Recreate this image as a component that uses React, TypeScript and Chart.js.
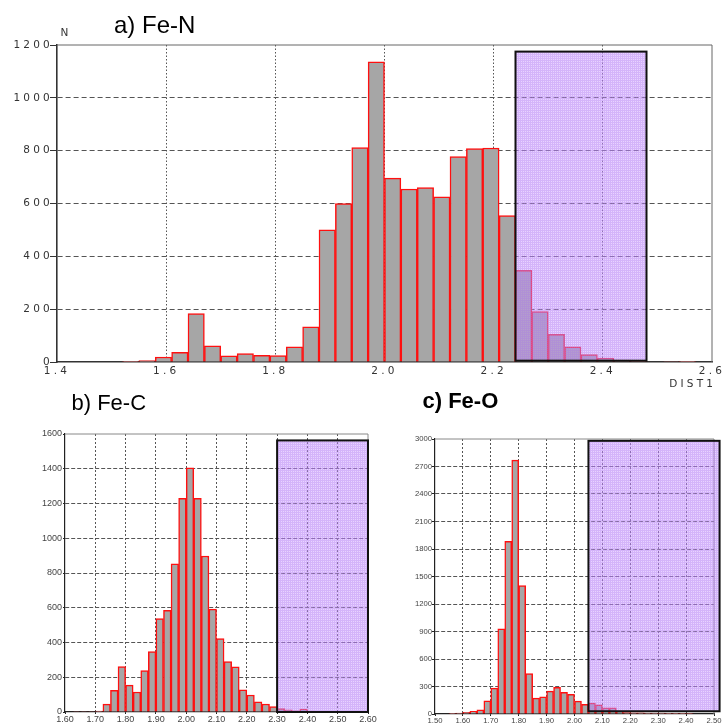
import React, { useEffect, useRef } from "react";
import { Chart, registerables } from "chart.js";

Chart.register(...registerables);

// ---------- a) Fe-N ----------
const feNCentres = [1.535, 1.565, 1.595, 1.625, 1.655, 1.685, 1.715, 1.745, 1.775, 1.805, 1.835, 1.865, 1.895, 1.925, 1.955, 1.985, 2.015, 2.045, 2.075, 2.105, 2.135, 2.165, 2.195, 2.225, 2.255, 2.285, 2.315, 2.345, 2.375, 2.405, 2.435, 2.465, 2.495, 2.525, 2.555];
const feNCounts = [1, 5, 19, 37, 183, 61, 23, 32, 25, 24, 57, 133, 500, 600, 812, 1136, 696, 655, 660, 625, 778, 808, 810, 554, 347, 191, 105, 57, 28, 15, 7, 3, 0, 2, 1];
const feNXTicks = ["1.4", "1.6", "1.8", "2.0", "2.2", "2.4", "2.6"];
const feNYTicks = ["0", "200", "400", "600", "800", "1000", "1200"];
const feNWindow = [2.24, 2.48, 5, 1175]; // x from, x to, y from, y to

// ---------- b) Fe-C ----------
const feCCentres = [1.6375, 1.6625, 1.6875, 1.7125, 1.7375, 1.7625, 1.7875, 1.8125, 1.8375, 1.8625, 1.8875, 1.9125, 1.9375, 1.9625, 1.9875, 2.0125, 2.0375, 2.0625, 2.0875, 2.1125, 2.1375, 2.1625, 2.1875, 2.2125, 2.2375, 2.2625, 2.2875, 2.3125, 2.3375, 2.3625, 2.3875, 2.4125, 2.4375, 2.4625, 2.4875, 2.5125];
const feCCounts = [3, 3, 3, 5, 45, 125, 262, 155, 115, 238, 348, 537, 585, 853, 1230, 1405, 1230, 898, 592, 422, 290, 260, 127, 98, 58, 46, 31, 20, 12, 7, 17, 5, 4, 4, 4, 4];
const feCXTicks = ["1.60", "1.70", "1.80", "1.90", "2.00", "2.10", "2.20", "2.30", "2.40", "2.50", "2.60"];
const feCYTicks = ["0", "200", "400", "600", "800", "1000", "1200", "1400", "1600"];
const feCWindow = [2.3, 2.6, 0, 1563];

// ---------- c) Fe-O ----------
const feOCentres = [1.5625, 1.5875, 1.6125, 1.6375, 1.6625, 1.6875, 1.7125, 1.7375, 1.7625, 1.7875, 1.8125, 1.8375, 1.8625, 1.8875, 1.9125, 1.9375, 1.9625, 1.9875, 2.0125, 2.0375, 2.0625, 2.0875, 2.1125, 2.1375, 2.1625, 2.1875, 2.2125, 2.2375, 2.2625, 2.2875, 2.3125, 2.3375, 2.3625, 2.3875, 2.4125];
const feOCounts = [8, 10, 18, 29, 46, 143, 283, 930, 1885, 2770, 1400, 442, 173, 187, 250, 290, 237, 214, 140, 106, 118, 100, 67, 67, 30, 15, 12, 12, 10, 10, 10, 8, 8, 8, 6];
const feOXTicks = ["1.50", "1.60", "1.70", "1.80", "1.90", "2.00", "2.10", "2.20", "2.30", "2.40", "2.50"];
const feOYTicks = ["0", "300", "600", "900", "1200", "1500", "1800", "2100", "2400", "2700", "3000"];
const feOWindow = [2.05, 2.52, 30, 2980];

const titleA = "a) Fe-N";
const titleB = "b) Fe-C";
const titleC = "c) Fe-O";
const yLabelA = "N";
const xLabelA = "DIST1";

type Panel = {
  centres: number[];
  counts: number[];
  xTicks: string[];
  yTicks: string[];
  win: number[];
  width: number;
  height: number;
  yAxisWidth: number;
  xAxisHeight: number;
  padTop: number;
  padRight: number;
  font: { family: string; size: number };
  letterSpacing: number;
  tickColor: string;
  yTickLen: number;
  yTickPad: number;
  xTickLen: number;
  xTickPad: number;
  xTickMarkColor: string;
  axisWidth: number;
  axisColor: string;
  gridColor: string;
  frameColor: string;
  xDash: number[];
  yDash: number[];
  yLabel?: string;
  xLabel?: string;
};

function makePattern(): CanvasPattern | string {
  const pc = document.createElement("canvas");
  pc.width = 2;
  pc.height = 2;
  const g = pc.getContext("2d");
  if (!g) return "rgba(200,150,255,0.5)";
  g.fillStyle = "rgba(200,150,255,0.42)";
  g.fillRect(0, 0, 2, 2);
  g.fillStyle = "rgba(165,105,240,0.3)";
  g.fillRect(0, 0, 2, 1);
  g.fillRect(0, 1, 1, 1);
  return g.createPattern(pc, "repeat") || "rgba(200,150,255,0.5)";
}

function buildChart(canvas: HTMLCanvasElement, p: Panel) {
  const xVals = p.xTicks.map(Number);
  const yVals = p.yTicks.map(Number);
  const xMin = xVals[0];
  const xMax = xVals[xVals.length - 1];
  const yMin = yVals[0];
  const yMax = yVals[yVals.length - 1];
  const pattern = makePattern();
  const zeroPad = (s: any) => {
    s.paddingLeft = 0;
    s.paddingRight = 0;
    s.paddingTop = 0;
    s.paddingBottom = 0;
  };
  const ls = p.letterSpacing + "px";
  const overlay = {
    id: "overlay",
    beforeDraw(chart: any) {
      (chart.ctx as any).letterSpacing = ls;
    },
    beforeDatasetsDraw(chart: any) {
      const { ctx, chartArea: a } = chart;
      ctx.save();
      ctx.strokeStyle = p.frameColor;
      ctx.lineWidth = 1;
      ctx.beginPath();
      ctx.moveTo(a.left, a.top);
      ctx.lineTo(a.right, a.top);
      ctx.lineTo(a.right, a.bottom);
      ctx.stroke();
      ctx.restore();
    },
    afterDatasetsDraw(chart: any) {
      const { ctx } = chart;
      const xs = chart.scales.x;
      const ys = chart.scales.y;
      const L = xs.getPixelForValue(p.win[0]);
      const R = xs.getPixelForValue(p.win[1]);
      const B = ys.getPixelForValue(p.win[2]);
      const T = ys.getPixelForValue(p.win[3]);
      ctx.save();
      ctx.fillStyle = pattern;
      ctx.fillRect(L, T, R - L, B - T);
      ctx.strokeStyle = "#111";
      ctx.lineWidth = 2;
      ctx.strokeRect(L, T, R - L, B - T);
      ctx.restore();
    },
    afterDraw(chart: any) {
      const { ctx, chartArea: a } = chart;
      ctx.save();
      ctx.font = `${p.font.size}px "${p.font.family}"`;
      ctx.fillStyle = p.tickColor;
      ctx.textBaseline = "middle";
      if (p.yLabel) {
        ctx.textAlign = "center";
        ctx.fillText(p.yLabel, a.left + 7.5 + p.letterSpacing / 2, a.top - 12);
      }
      if (p.xLabel) {
        ctx.textAlign = "right";
        ctx.fillText(p.xLabel, a.right + 1 + p.letterSpacing, a.bottom + 22);
      }
      ctx.restore();
      (ctx as any).letterSpacing = "0px";
    },
  };

  return new Chart(canvas, {
    type: "bar",
    data: {
      datasets: [
        {
          data: p.centres.map((x, i) => ({ x, y: p.counts[i] })) as any,
          backgroundColor: "#a6a6a6",
          borderColor: "#ff1010",
          borderWidth: 1.5,
          barPercentage: 1,
          categoryPercentage: 1,
          borderSkipped: "start",
        },
      ],
    },
    options: {
      animation: false,
      responsive: false,
      devicePixelRatio: 1,
      events: [],
      layout: { padding: { top: p.padTop, right: p.padRight, left: 0, bottom: 0 } },
      plugins: {
        legend: { display: false },
        tooltip: { enabled: false },
        title: { display: false },
      },
      scales: {
        x: {
          type: "linear",
          min: xMin,
          max: xMax,
          offset: false,
          afterBuildTicks: (s: any) => {
            s.ticks = xVals.map((v) => ({ value: v }));
          },
          afterFit: (s: any) => {
            s.height = p.xAxisHeight;
            zeroPad(s);
          },
          ticks: {
            callback: (_v: any, i: number) => p.xTicks[i],
            font: p.font,
            color: p.tickColor,
            padding: p.xTickPad,
            maxRotation: 0,
            minRotation: 0,
            autoSkip: false,
          },
          grid: {
            offset: false,
            color: (c: any) =>
              c.tick && (Math.abs(c.tick.value - xMin) < 1e-9 || Math.abs(c.tick.value - xMax) < 1e-9)
                ? "rgba(0,0,0,0)"
                : p.gridColor,
            lineWidth: 1,
            tickLength: p.xTickLen,
            tickColor: p.xTickMarkColor,
            drawTicks: true,
          },
          border: { display: true, color: p.axisColor, width: p.axisWidth, dash: p.xDash },
        },
        y: {
          type: "linear",
          min: yMin,
          max: yMax,
          afterBuildTicks: (s: any) => {
            s.ticks = yVals.map((v) => ({ value: v }));
          },
          afterFit: (s: any) => {
            s.width = p.yAxisWidth;
            zeroPad(s);
          },
          ticks: {
            callback: (_v: any, i: number) => p.yTicks[i],
            font: p.font,
            color: p.tickColor,
            padding: p.yTickPad,
            autoSkip: false,
          },
          grid: {
            color: (c: any) =>
              c.tick && (c.tick.value === yMin || c.tick.value === yMax) ? "rgba(0,0,0,0)" : p.gridColor,
            lineWidth: 1,
            tickLength: p.yTickLen,
            tickColor: p.axisColor,
            drawTicks: true,
          },
          border: { display: true, color: p.axisColor, width: p.axisWidth, dash: p.yDash },
        },
      },
    } as any,
    plugins: [overlay as any],
  });
}

const panelA: Panel = {
  centres: feNCentres,
  counts: feNCounts,
  xTicks: feNXTicks,
  yTicks: feNYTicks,
  win: feNWindow,
  width: 723,
  height: 390,
  yAxisWidth: 57,
  xAxisHeight: 28,
  padTop: 45,
  padRight: 11,
  font: { family: "DejaVu Sans", size: 10.5 },
  letterSpacing: 3.2,
  tickColor: "#333",
  yTickLen: 7,
  yTickPad: -3,
  xTickLen: 3,
  xTickPad: 0,
  xTickMarkColor: "rgba(0,0,0,0)",
  axisWidth: 1.6,
  axisColor: "#333",
  gridColor: "#555",
  frameColor: "#666",
  xDash: [1.5, 2],
  yDash: [5, 3],
  yLabel: yLabelA,
  xLabel: xLabelA,
};

const panelB: Panel = {
  centres: feCCentres,
  counts: feCCounts,
  xTicks: feCXTicks,
  yTicks: feCYTicks,
  win: feCWindow,
  width: 385,
  height: 335,
  yAxisWidth: 65,
  xAxisHeight: 13,
  padTop: 44,
  padRight: 17,
  font: { family: "Liberation Sans", size: 9 },
  letterSpacing: 0,
  tickColor: "#444",
  yTickLen: 2,
  yTickPad: 1,
  xTickLen: 2,
  xTickPad: 0,
  xTickMarkColor: "#222",
  axisWidth: 1.2,
  axisColor: "#222",
  gridColor: "#555",
  frameColor: "#888",
  xDash: [2, 2],
  yDash: [4, 2],
};

const panelC: Panel = {
  centres: feOCentres,
  counts: feOCounts,
  xTicks: feOXTicks,
  yTicks: feOYTicks,
  win: feOWindow,
  width: 333,
  height: 335,
  yAxisWidth: 45,
  xAxisHeight: 11,
  padTop: 49,
  padRight: 9,
  font: { family: "Liberation Sans", size: 7.7 },
  letterSpacing: 0,
  tickColor: "#444",
  yTickLen: 3,
  yTickPad: 0,
  xTickLen: 2,
  xTickPad: 0,
  xTickMarkColor: "#222",
  axisWidth: 1.2,
  axisColor: "#222",
  gridColor: "#555",
  frameColor: "#888",
  xDash: [2, 2],
  yDash: [4, 2],
};

function HistCanvas({ panel, left, top }: { panel: Panel; left: number; top: number }) {
  const ref = useRef<HTMLCanvasElement | null>(null);
  useEffect(() => {
    if (!ref.current) return;
    const chart = buildChart(ref.current, panel);
    return () => chart.destroy();
  }, [panel]);
  return (
    <canvas
      ref={ref}
      width={panel.width}
      height={panel.height}
      style={{ position: "absolute", left, top, width: panel.width, height: panel.height }}
    />
  );
}

const titleStyle: React.CSSProperties = {
  position: "absolute",
  fontFamily: '"Liberation Sans", Arial, sans-serif',
  lineHeight: 1,
  color: "#000",
  whiteSpace: "nowrap",
};

export default function App() {
  return (
    <div style={{ position: "absolute", left: 0, top: 0, width: 723, height: 725, background: "#fff", overflow: "hidden" }}>
      <HistCanvas panel={panelA} left={0} top={0} />
      <HistCanvas panel={panelB} left={0} top={390} />
      <HistCanvas panel={panelC} left={390} top={390} />
      <div style={{ ...titleStyle, left: 114, top: 13, fontSize: 24 }}>{titleA}</div>
      <div style={{ ...titleStyle, left: 71.5, top: 392, fontSize: 22 }}>{titleB}</div>
      <div style={{ ...titleStyle, left: 422.5, top: 390, fontSize: 22, fontWeight: 700 }}>{titleC}</div>
    </div>
  );
}
